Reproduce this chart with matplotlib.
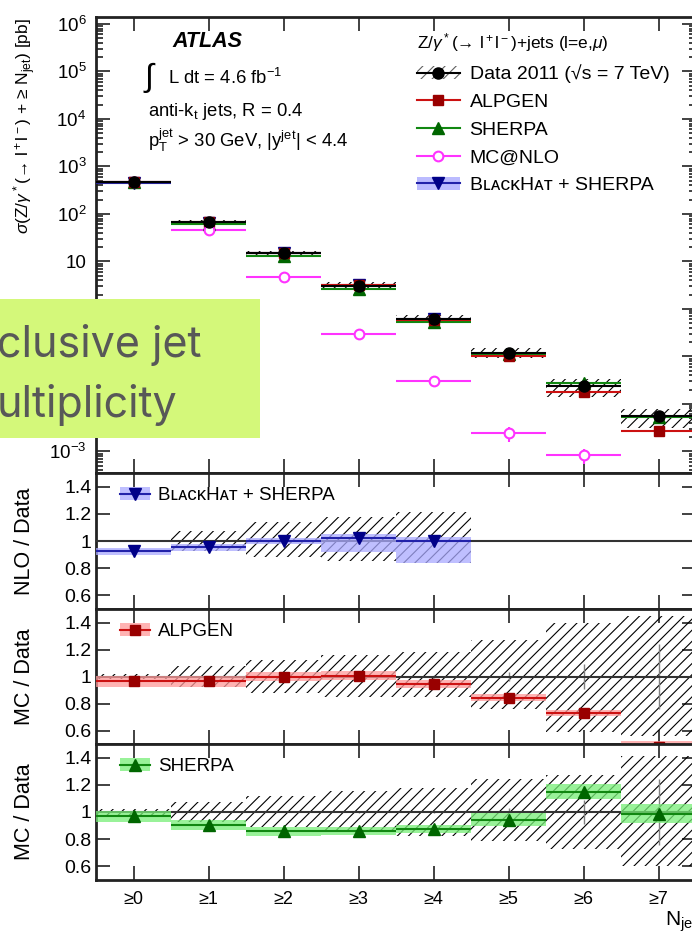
import numpy as np
import matplotlib
matplotlib.use("Agg")
import matplotlib.pyplot as plt
from matplotlib.patches import Patch, Rectangle
from matplotlib.lines import Line2D
from matplotlib.ticker import FixedLocator, LogLocator, NullFormatter, FuncFormatter, NullLocator

plt.rcParams['font.family'] = ['Liberation Sans', 'DejaVu Sans']
plt.rcParams['mathtext.fontset'] = 'custom'
plt.rcParams['mathtext.rm'] = 'Liberation Sans'
plt.rcParams['mathtext.it'] = 'Liberation Sans:italic'
plt.rcParams['mathtext.bf'] = 'Liberation Sans:bold'
plt.rcParams['hatch.linewidth'] = 0.8
plt.rcParams['hatch.color'] = '0.38'

# ---------------- data ----------------
njet_labels = ['≥0', '≥1', '≥2', '≥3', '≥4', '≥5', '≥6', '≥7']

data_xsec = [479, 68.8, 15.1, 3.1, 0.62, 0.12, 0.024, 0.0055]
data_stat_rel = [0.0, 0.0, 0.0, 0.005, 0.01, 0.03, 0.09, 0.24]

alpgen_xsec = [462, 66.3, 15.1, 3.12, 0.585, 0.10, 0.0175, 0.0027]
sherpa_xsec = [465, 62.3, 12.9, 2.67, 0.54, 0.113, 0.0275, 0.0054]
mcnlo_xsec = [479, 45, 4.6, 0.30, 0.031, 0.0024, 0.00083, np.nan]
mcnlo_err_rel = [0.0, 0.0, 0.0, 0.02, 0.05, 0.35, 0.35, 0.0]
blackhat_xsec = [444, 65.6, 15.1, 3.16, 0.62]

blackhat_ratio = [0.93, 0.953, 1.0, 1.025, 1.0]
blackhat_band_lo = [0.90, 0.93, 0.98, 0.92, 0.84]
blackhat_band_hi = [0.95, 0.98, 1.025, 1.05, 1.03]
nlo_hatch_hi = [0.01, 0.075, 0.14, 0.18, 0.21]
nlo_hatch_lo = [0.01, 0.07, 0.12, 0.15, 0.16]

alpgen_ratio = [0.964, 0.964, 1.0, 1.007, 0.944, 0.842, 0.729, 0.48]
alpgen_err = [0.04, 0.04, 0.035, 0.035, 0.03, 0.025, 0.02, 0.04]
alpgen_hatch_hi = [0.02, 0.08, 0.12, 0.16, 0.18, 0.27, 0.40, 0.45]
alpgen_hatch_lo = [0.02, 0.08, 0.12, 0.15, 0.15, 0.24, 0.41, 0.44]

sherpa_ratio = [0.97, 0.905, 0.857, 0.862, 0.874, 0.944, 1.148, 0.988]
sherpa_err = [0.04, 0.035, 0.03, 0.03, 0.03, 0.05, 0.055, 0.07]
sherpa_hatch_hi = [0.02, 0.073, 0.116, 0.153, 0.18, 0.24, 0.27, 0.41]
sherpa_hatch_lo = [0.02, 0.07, 0.11, 0.15, 0.18, 0.21, 0.27, 0.40]

# ---------------- colours ----------------
C_ALP_LINE, C_ALP_MK, C_ALP_BAND = '#cc1111', '#990000', '#ff9a9a'
C_SHE_LINE, C_SHE_MK, C_SHE_BAND = '#118811', '#006600', '#77ee77'
C_NLO_LINE, C_NLO_MK, C_NLO_BAND = '#2222aa', '#000088', '#aaaaff'
C_MCN = '#ff33ff'

W, H = 692, 935
fig = plt.figure(figsize=(W / 100, H / 100), dpi=100)

def pos(left, top, right, bottom):
    return [left / W, 1 - bottom / H, (right - left) / W, (bottom - top) / H]

L, R = 96, 696
ax0 = fig.add_axes(pos(L, 17, R, 473))
ax1 = fig.add_axes(pos(L, 473, R, 609))
ax2 = fig.add_axes(pos(L, 609, R, 744))
ax3 = fig.add_axes(pos(L, 744, R, 880))

x = np.arange(len(njet_labels))
xb = np.arange(len(blackhat_xsec))

def style(ax):
    for s in ax.spines.values():
        s.set_linewidth(2.0)
        s.set_color('#222222')
    ax.set_xlim(-0.5, 7.5)
    ax.xaxis.set_major_locator(FixedLocator(x))
    ax.xaxis.set_minor_locator(NullLocator())
    ax.tick_params(which='both', direction='in', top=True, right=True,
                   width=1.3, color='#333333', labelsize=14)
    ax.tick_params(which='major', length=10)
    ax.tick_params(which='minor', length=5)

# ---------------- top panel ----------------
ax = ax0
style(ax)
ax.set_yscale('log')
ax.set_ylim(3.5e-4, 1.4e6)
ax.yaxis.set_major_locator(LogLocator(base=10, numticks=20))
ax.yaxis.set_minor_locator(LogLocator(base=10, subs=np.arange(2, 10), numticks=200))
ax.yaxis.set_minor_formatter(NullFormatter())
ax.tick_params(axis='y', which='major', labelsize=13.5, pad=7)

def logfmt(v, p):
    e = int(round(np.log10(v)))
    if e == 0:
        return '1'
    if e == 1:
        return '10'
    return r'$10^{%d}$' % e
ax.yaxis.set_major_formatter(FuncFormatter(logfmt))
ax.tick_params(axis='x', labelbottom=False)

dv = np.array(data_xsec)
ax.bar(x, dv * (np.array(alpgen_hatch_hi) + np.array(alpgen_hatch_lo)),
       bottom=dv * (1 - np.array(alpgen_hatch_lo)), width=1.0, fill=False,
       hatch='///', linewidth=0, zorder=2)

mv = np.array(mcnlo_xsec)
ax.hlines(mv, x - 0.5, x + 0.5, color=C_MCN, lw=1.5, zorder=3)
ax.errorbar(x, mv, yerr=[mv * np.array(mcnlo_err_rel), mv * np.array(mcnlo_err_rel)],
            fmt='o', mfc='white', mec=C_MCN, ecolor=C_MCN, ms=7, mew=1.5, zorder=4)
ax.hlines(blackhat_xsec, xb - 0.5, xb + 0.5, color=C_NLO_LINE, lw=1.5, zorder=3)
ax.plot(xb, blackhat_xsec, 'v', color=C_NLO_MK, ms=8, zorder=4)
ax.hlines(sherpa_xsec, x - 0.5, x + 0.5, color=C_SHE_LINE, lw=1.5, zorder=3)
ax.plot(x, sherpa_xsec, '^', color=C_SHE_MK, ms=8, zorder=4)
ax.hlines(alpgen_xsec, x - 0.5, x + 0.5, color=C_ALP_LINE, lw=1.5, zorder=3)
ax.plot(x, alpgen_xsec, 's', color=C_ALP_MK, ms=7, zorder=4)
ax.errorbar(x, dv, xerr=0.5, yerr=dv * np.array(data_stat_rel), fmt='o', color='black',
            ms=8, lw=1.5, zorder=5)

ax.text(0.128, 0.947, 'ATLAS', transform=ax.transAxes, fontsize=15.5,
        fontweight='bold', fontstyle='italic', va='center', ha='left')
ax.text(0.078, 0.868, r'$\int$', transform=ax.transAxes, fontsize=23,
        va='center', ha='left', family='DejaVu Sans')
ax.text(0.12, 0.866, r'L dt = 4.6 fb$^{-1}$', transform=ax.transAxes, fontsize=13.3,
        va='center', ha='left')
ax.text(0.087, 0.792, r'anti-k$_{\rm t}$ jets, R = 0.4', transform=ax.transAxes,
        fontsize=13.3, va='center', ha='left')
ax.text(0.087, 0.73, r'p$_{\rm T}^{\rm jet}$ > 30 GeV, |y$^{\rm jet}$| < 4.4',
        transform=ax.transAxes, fontsize=13.3, va='center', ha='left')

h_data = (Patch(facecolor='none', edgecolor='0.38', hatch='///', lw=0),
          Line2D([], [], color='black', marker='o', ms=8, lw=1.5))
h_alp = Line2D([], [], color=C_ALP_LINE, marker='s', mfc=C_ALP_MK, mec=C_ALP_MK, ms=7, lw=1.5)
h_she = Line2D([], [], color=C_SHE_LINE, marker='^', mfc=C_SHE_MK, mec=C_SHE_MK, ms=8, lw=1.5)
h_mcn = Line2D([], [], color=C_MCN, marker='o', mfc='white', mec=C_MCN, ms=7, mew=1.5, lw=1.5)
h_nlo = (Patch(facecolor=C_NLO_BAND, edgecolor='none', alpha=0.8),
         Line2D([], [], color=C_NLO_LINE, marker='v', mfc=C_NLO_MK, mec=C_NLO_MK, ms=8, lw=1.5))
leg = ax.legend([h_data, h_alp, h_she, h_mcn, h_nlo],
                ['Data 2011 (√s = 7 TeV)', 'ALPGEN', 'SHERPA', 'MC@NLO',
                 'Bʟᴀᴄᴋ' + 'Hᴀᴛ + SHERPA'],
                loc='upper left', bbox_to_anchor=(0.535, 0.968), frameon=False,
                fontsize=14, title=r'Z/$\gamma^*$(→ l$^+$l$^-$)+jets (l=e,$\mu$)',
                title_fontsize=12.5, alignment='left', borderpad=0, borderaxespad=0,
                handlelength=2.2, handletextpad=0.5, labelspacing=0.52)

# ---------------- ratio panels ----------------
def ratio_panel(ax, xs, ratio, lo, hi, hatch_lo, hatch_hi, line_c, mk_c, band_c, marker, ms,
                label, ylabel):
    style(ax)
    ax.set_ylim(0.5, 1.5)
    ax.yaxis.set_major_locator(FixedLocator([0.6, 0.8, 1.0, 1.2, 1.4]))
    ax.yaxis.set_major_formatter(FuncFormatter(lambda v, p: '1' if abs(v - 1) < 1e-6 else '%.1f' % v))
    ax.tick_params(axis='x', labelbottom=False)
    ax.tick_params(axis='y', pad=3)
    hl, hh = np.array(hatch_lo), np.array(hatch_hi)
    ax.bar(xs, hl + hh, bottom=1 - hl, width=1.0, fill=False, hatch='///', linewidth=0, zorder=2)
    ax.axhline(1.0, color='#333333', lw=1.5, zorder=3)
    r = np.array(ratio)
    ax.bar(xs, np.array(hi) - np.array(lo), bottom=lo, width=1.0, color=band_c,
           alpha=0.75, linewidth=0, zorder=3)
    ax.hlines(r, xs - 0.5, xs + 0.5, color=line_c, lw=1.5, zorder=4)
    ax.plot(xs, r, marker, color=mk_c, ms=ms, zorder=5, clip_on=True)
    ax.set_ylabel(ylabel, fontsize=15.5)
    ax.yaxis.set_label_coords(-0.102, 0.5)
    h = (Patch(facecolor=band_c, edgecolor='none', alpha=0.75),
         Line2D([], [], color=line_c, marker=marker, mfc=mk_c, mec=mk_c, ms=ms, lw=1.5))
    ax.legend([h], [label], loc='upper left', bbox_to_anchor=(0.04, 0.895), frameon=False,
              fontsize=13.5, borderpad=0, borderaxespad=0, handlelength=1.6, handletextpad=0.45)

ratio_panel(ax1, xb, blackhat_ratio, blackhat_band_lo, blackhat_band_hi, nlo_hatch_lo, nlo_hatch_hi,
            C_NLO_LINE, C_NLO_MK, C_NLO_BAND, 'v', 8, 'Bʟᴀᴄᴋ' + 'Hᴀᴛ + SHERPA', 'NLO / Data')

ar, ae = np.array(alpgen_ratio), np.array(alpgen_err)
ratio_panel(ax2, x, alpgen_ratio, ar - ae, ar + ae, alpgen_hatch_lo, alpgen_hatch_hi,
            C_ALP_LINE, C_ALP_MK, C_ALP_BAND, 's', 7, 'ALPGEN', 'MC / Data')
ax2.errorbar(x, np.ones(len(x)), yerr=data_stat_rel, fmt='none', ecolor='0.5', lw=1, zorder=2)

sr, se = np.array(sherpa_ratio), np.array(sherpa_err)
ratio_panel(ax3, x, sherpa_ratio, sr - se, sr + se, sherpa_hatch_lo, sherpa_hatch_hi,
            C_SHE_LINE, C_SHE_MK, C_SHE_BAND, '^', 8, 'SHERPA', 'MC / Data')
ax3.errorbar(x, np.ones(len(x)), yerr=data_stat_rel, fmt='none', ecolor='0.5', lw=1, zorder=2)
ax3.tick_params(axis='x', labelbottom=True, labelsize=13, pad=8)
ax3.set_xticklabels(njet_labels)

fig.text(698 / W, 1 - 922 / H, r'N$_{\rm jet}$', fontsize=15, ha='right', va='center')
fig.text(25 / W, 1 - 18 / H,
         r'$\sigma$(Z/$\gamma^*$(→ l$^+$l$^-$) + ≥ N$_{\rm jet}$) [pb]',
         rotation=90, ha='center', va='top', fontsize=12.5)

# ---------------- slide overlay ----------------
fig.add_artist(Rectangle((0, 1 - 438 / H), 260 / W, 139 / H, transform=fig.transFigure,
                         facecolor='#d4f87a', edgecolor='none', zorder=20))
fig.text(-3 / W, 1 - 357 / H, 'clusive jet', fontsize=31, color='#585858', family='Inter',
         ha='left', va='baseline', zorder=21)
fig.text(-3 / W, 1 - 417 / H, 'ultiplicity', fontsize=31, color='#585858', family='Inter',
         ha='left', va='baseline', zorder=21)

fig.savefig('out.png', dpi=100)
